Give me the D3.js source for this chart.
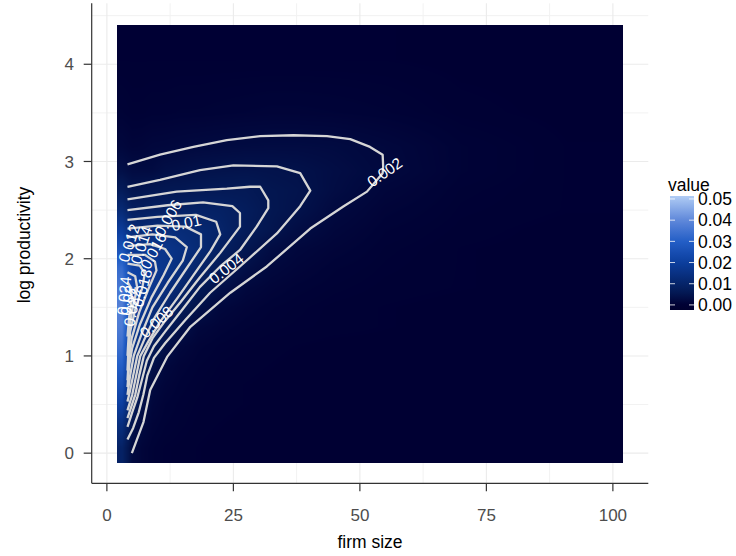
<!DOCTYPE html>
<html><head><meta charset="utf-8">
<script src="https://cdn.jsdelivr.net/npm/d3@7"></script>
<style>
body{margin:0;background:#fff}
svg{display:block}
text{font-family:"Liberation Sans",Arial,Helvetica,sans-serif}
</style>
</head><body>
<svg id="chart" width="736" height="556"></svg>
<script>
// ---------------- data ----------------
const xTicks = [0, 25, 50, 75, 100];
const xMinor = [12.5, 37.5, 62.5, 87.5];
const yTicks = [0, 1, 2, 3, 4];
const yMinor = [0.5, 1.5, 2.5, 3.5, 4.5];
const legendTicks = [0, 0.01, 0.02, 0.03, 0.04, 0.05];
const legendLimits = [-0.0024, 0.0514];

// raster extent and sample points (firm size, log productivity)
const rasterExtentX = [2, 102];
const rasterExtentY = [-0.1, 4.4];
const rasterX = [3, 5, 7, 9, 11.5, 14.5, 18, 22.5, 27.5, 32.5, 37.5, 45, 55, 70, 91];
const rasterY = [0.05, 0.3, 0.5, 0.7, 0.9, 1.1, 1.3, 1.5, 1.7, 1.9, 2.1, 2.3, 2.5, 2.7, 2.9, 3.15, 3.5, 4.05];
// density values, one row per rasterY (bottom to top), one column per rasterX
const rasterValues = [
  [0.009,0.0022,0.0011,0.0006,0.0003,0.0002,0.0001,0,0,0,0,0,0,0,0],
  [0.014,0.0046,0.0021,0.001,0.0006,0.0004,0.0002,0.0001,0,0,0,0,0,0,0],
  [0.020,0.008,0.0035,0.0015,0.0008,0.0005,0.0003,0.0002,0.0001,0,0,0,0,0,0],
  [0.025,0.011,0.0052,0.0021,0.0012,0.0007,0.0004,0.0002,0.0001,0,0,0,0,0,0],
  [0.030,0.0139,0.0076,0.0037,0.0018,0.001,0.0006,0.0003,0.0002,0.0001,0,0,0,0,0],
  [0.034,0.016,0.0115,0.0066,0.0037,0.0017,0.0009,0.0005,0.0003,0.0002,0.0001,0,0,0,0],
  [0.037,0.0195,0.015,0.0114,0.0070,0.0039,0.0017,0.001,0.0006,0.0004,0.0003,0.0002,0.0001,0,0],
  [0.038,0.0225,0.0177,0.014,0.011,0.0068,0.0039,0.0017,0.001,0.0006,0.0004,0.0002,0.0001,0,0],
  [0.036,0.0235,0.020,0.0171,0.0139,0.0107,0.0062,0.0037,0.0018,0.0011,0.0007,0.0004,0.0002,0.0001,0],
  [0.033,0.021,0.020,0.0183,0.0163,0.0134,0.010,0.0058,0.0034,0.0018,0.0012,0.0006,0.0003,0.0001,0],
  [0.026,0.0167,0.0168,0.0168,0.016,0.0145,0.0122,0.0084,0.0052,0.0028,0.0017,0.001,0.0004,0.0001,0],
  [0.019,0.0122,0.0122,0.0127,0.0131,0.0125,0.0115,0.0098,0.0068,0.0048,0.003,0.0015,0.0006,0.0002,0],
  [0.012,0.008,0.0078,0.0085,0.0088,0.0089,0.0092,0.0088,0.0072,0.0052,0.0042,0.0021,0.0009,0.0003,0.0001],
  [0.0068,0.0048,0.005,0.0053,0.0056,0.0057,0.006,0.0062,0.0062,0.005,0.0045,0.0028,0.0013,0.0004,0.0001],
  [0.0036,0.0027,0.0026,0.0026,0.0034,0.0037,0.0041,0.0043,0.0045,0.0043,0.004,0.003,0.0019,0.0006,0.0001],
  [0.0017,0.0012,0.0013,0.0016,0.0017,0.0019,0.0021,0.0023,0.0025,0.0026,0.0026,0.0024,0.0017,0.0006,0.0001],
  [0.0006,0.0004,0.0004,0.0005,0.0005,0.0006,0.0006,0.0007,0.0008,0.0009,0.0009,0.0008,0.0006,0.0002,0],
  [0.0001,0.0001,0.0001,0.0001,0.0001,0.0001,0.0001,0.0001,0.0001,0.0001,0.0001,0.0001,0.0001,0,0]
];

// contour lines (firm size, log productivity)
const c002 = [[4.07,2.97],[10.5,3.07],[17.1,3.15],[23.7,3.22],[30.3,3.26],[36.9,3.27],[43.5,3.26],[48.1,3.23],[52.0,3.15],[54.5,3.07],[54.6,2.95],[54.5,2.88],[51.4,2.69],[46.8,2.54],[40.2,2.31],[31.6,1.92],[24.4,1.65],[16.5,1.30],[11.9,0.99],[8.56,0.65],[7.23,0.32],[5.93,0.14],[4.94,0.0]];
const c004 = [[4.07,2.74],[10.5,2.81],[18.4,2.91],[25.0,2.96],[33.6,2.95],[38.2,2.88],[40.2,2.70],[38.2,2.54],[33.6,2.26],[26.3,1.92],[20.4,1.65],[15.5,1.37],[11.5,1.13],[9.3,0.98],[8.0,0.8],[7.2,0.6],[6.3,0.42],[5.2,0.26],[4.07,0.14]];
const c006 = [[4.07,2.61],[13.8,2.69],[23.7,2.72],[28.3,2.74],[30.3,2.74],[31.9,2.60],[31.9,2.52],[29.6,2.33],[26.3,2.09],[22.4,1.92],[18.4,1.71],[14.5,1.45],[11.5,1.25],[9.3,1.1],[7.9,0.95],[6.9,0.75],[6.0,0.57],[5.0,0.42],[4.07,0.27]];
const c008 = [[4.07,2.50],[12.0,2.55],[19.0,2.58],[24.8,2.54],[26.3,2.47],[26.3,2.33],[22.4,2.06],[18.4,1.81],[14.5,1.55],[11.5,1.36],[9.0,1.18],[7.3,1.0],[6.4,0.8],[5.6,0.6],[4.07,0.36]];
const c010 = [[4.07,2.40],[10.0,2.43],[17.6,2.45],[21.6,2.38],[22.4,2.25],[20.5,2.08],[17.5,1.86],[14.0,1.6],[10.5,1.35],[8.2,1.15],[6.6,1.0],[5.8,0.8],[5.0,0.6],[4.07,0.44]];
const c012 = [[4.07,2.31],[10.0,2.34],[15.5,2.33],[18.6,2.25],[18.6,2.12],[16.0,1.92],[12.5,1.65],[9.5,1.4],[7.4,1.17],[6.0,1.0],[5.2,0.8],[4.6,0.65],[4.07,0.53]];
const c014 = [[4.07,2.22],[9.0,2.25],[13.5,2.22],[15.8,2.12],[15.0,1.98],[12.0,1.75],[9.0,1.5],[6.8,1.22],[5.3,1.0],[4.6,0.8],[4.07,0.6]];
const c016 = [[4.07,2.13],[8.5,2.15],[11.5,2.1],[12.8,2.0],[11.2,1.83],[8.8,1.6],[6.5,1.32],[5.0,1.08],[4.4,0.9],[4.07,0.68]];
const c018 = [[4.07,2.04],[7.5,2.04],[9.5,1.97],[9.8,1.88],[8.3,1.7],[6.4,1.45],[4.9,1.18],[4.3,0.95],[4.07,0.75]];
const c020 = [[4.07,1.95],[6.5,1.93],[7.5,1.85],[7.0,1.7],[5.7,1.5],[4.6,1.25],[4.2,1.0],[4.07,0.85]];
const c022 = [[4.07,1.86],[5.6,1.82],[6.0,1.7],[5.2,1.52],[4.4,1.3],[4.07,1.0]];
const c024 = [[4.07,1.76],[4.8,1.7],[4.9,1.58],[4.4,1.4],[4.07,1.2]];
const contourLines = [c002, c004, c006, c008, c010, c012, c014, c016, c018, c020, c022, c024];

// direct labels on the contours: text, position (data units), angle (deg)
const labelText  = ["0.002","0.004","0.006","0.01","0.008","0.012","0.014","0.016","0.018","0.02","0.022","0.024"];
const labelX     = [54.9, 23.6, 12.1, 15.7, 9.8, 4.4, 6.8, 9.2, 7.0, 4.2, 5.0, 3.4];
const labelY     = [2.89, 1.90, 2.42, 2.37, 1.35, 2.16, 2.14, 2.08, 1.70, 1.57, 1.50, 1.62];
const labelAngle = [-35, -38, -60, -12, -42, -72, -72, -62, -75, -80, -80, -85];

// ---------------- layout ----------------
const svg = d3.select("#chart");
const x = d3.scaleLinear().domain([-3, 107]).range([91.7, 648.3]);
const y = d3.scaleLinear().domain([-0.31, 4.627]).range([483.3, 3.3]);

const color = d3.scaleLinear()
  .domain([legendLimits[0], 0, 0.005, 0.012, 0.02, 0.03, 0.04, legendLimits[1]])
  .range(["#00002e", "#000033", "#031650", "#072a74", "#0c3e9e", "#235ec6", "#6088da", "#b0ccf4"])
  .clamp(true);

// grid
const grid = svg.append("g");
grid.selectAll(".vmin").data(xMinor).join("line")
  .attr("x1", d => x(d)).attr("x2", d => x(d)).attr("y1", y.range()[1]).attr("y2", y.range()[0])
  .attr("stroke", "#f2f2f2").attr("stroke-width", 1);
grid.selectAll(".hmin").data(yMinor).join("line")
  .attr("y1", d => y(d)).attr("y2", d => y(d)).attr("x1", x.range()[0]).attr("x2", x.range()[1])
  .attr("stroke", "#f2f2f2").attr("stroke-width", 1);
grid.selectAll(".vmaj").data(xTicks).join("line")
  .attr("x1", d => x(d)).attr("x2", d => x(d)).attr("y1", y.range()[1]).attr("y2", y.range()[0])
  .attr("stroke", "#ebebeb").attr("stroke-width", 1.1);
grid.selectAll(".hmaj").data(yTicks).join("line")
  .attr("y1", d => y(d)).attr("y2", d => y(d)).attr("x1", x.range()[0]).attr("x2", x.range()[1])
  .attr("stroke", "#ebebeb").attr("stroke-width", 1.1);

// raster (drawn like an interpolated raster layer)
const rx0 = Math.round(x(rasterExtentX[0])), rx1 = Math.round(x(rasterExtentX[1]));
const ry0 = Math.round(y(rasterExtentY[1])), ry1 = Math.round(y(rasterExtentY[0]));
const W = rx1 - rx0, H = ry1 - ry0;
const canvas = document.createElement("canvas");
canvas.width = W; canvas.height = H;
const ctx = canvas.getContext("2d");
const img = ctx.createImageData(W, H);
function bracket(arr, v) {
  if (v <= arr[0]) return [0, 0, 0];
  if (v >= arr[arr.length - 1]) return [arr.length - 1, arr.length - 1, 0];
  const i = d3.bisectRight(arr, v) - 1;
  return [i, i + 1, (v - arr[i]) / (arr[i + 1] - arr[i])];
}
const xb = d3.range(W).map(i => bracket(rasterX, x.invert(rx0 + i + 0.5)));
for (let j = 0; j < H; j++) {
  const [a, b, t] = bracket(rasterY, y.invert(ry0 + j + 0.5));
  for (let i = 0; i < W; i++) {
    const [p, q, s] = xb[i];
    const v0 = rasterValues[a][p] * (1 - s) + rasterValues[a][q] * s;
    const v1 = rasterValues[b][p] * (1 - s) + rasterValues[b][q] * s;
    const c = d3.rgb(color(v0 * (1 - t) + v1 * t));
    const k = (j * W + i) * 4;
    img.data[k] = c.r; img.data[k + 1] = c.g; img.data[k + 2] = c.b; img.data[k + 3] = 255;
  }
}
ctx.putImageData(img, 0, 0);
svg.append("image").attr("x", rx0).attr("y", ry0).attr("width", W).attr("height", H)
  .attr("preserveAspectRatio", "none").attr("href", canvas.toDataURL());

// contours
const line = d3.line().x(d => x(d[0])).y(d => y(d[1]));
svg.append("g").selectAll("path").data(contourLines).join("path")
  .attr("d", line).attr("fill", "none").attr("stroke", "#d6d6d6").attr("stroke-width", 2.3)
  .attr("stroke-linejoin", "round");

// contour labels
svg.append("g").selectAll("text").data(labelText).join("text")
  .attr("transform", (d, i) => `translate(${x(labelX[i])},${y(labelY[i])}) rotate(${labelAngle[i]})`)
  .attr("text-anchor", "middle").attr("dy", "0.35em")
  .attr("font-size", 15.5).attr("fill", "#ffffff").text(d => d);

// axes
const axisColor = "#333333";
svg.append("line").attr("x1", x.range()[0]).attr("x2", x.range()[1]).attr("y1", y.range()[0]).attr("y2", y.range()[0])
  .attr("stroke", axisColor).attr("stroke-width", 1.2);
svg.append("line").attr("x1", x.range()[0]).attr("x2", x.range()[0]).attr("y1", y.range()[0]).attr("y2", y.range()[1])
  .attr("stroke", axisColor).attr("stroke-width", 1.2);
const xt = svg.append("g").selectAll("g").data(xTicks).join("g").attr("transform", d => `translate(${x(d)},0)`);
xt.append("line").attr("y1", y.range()[0]).attr("y2", y.range()[0] + 8).attr("stroke", axisColor).attr("stroke-width", 1.2);
xt.append("text").attr("y", 521).attr("text-anchor", "middle").attr("font-size", 17).attr("fill", "#4d4d4d").text(d => d);
const yt = svg.append("g").selectAll("g").data(yTicks).join("g").attr("transform", d => `translate(0,${y(d)})`);
yt.append("line").attr("x1", x.range()[0]).attr("x2", x.range()[0] - 8).attr("stroke", axisColor).attr("stroke-width", 1.2);
yt.append("text").attr("x", 74).attr("dy", "0.36em").attr("text-anchor", "end").attr("font-size", 17).attr("fill", "#4d4d4d").text(d => d);

svg.append("text").attr("x", 370).attr("y", 548).attr("text-anchor", "middle").attr("font-size", 17.5).attr("fill", "#000").text("firm size");
svg.append("text").attr("transform", "translate(30,245) rotate(-90)").attr("text-anchor", "middle").attr("font-size", 17.5).attr("fill", "#000").text("log productivity");

// legend
const defs = svg.append("defs");
const lg = svg.append("g");
const barX = 670, barW = 24, barTop = 196, barBot = 310;
const ly = d3.scaleLinear().domain(legendLimits).range([barBot, barTop]);
const grad = defs.append("linearGradient").attr("id", "lgrad").attr("x1", 0).attr("y1", 1).attr("x2", 0).attr("y2", 0);
d3.range(0, 1.0001, 0.05).forEach(t => {
  const v = legendLimits[0] + t * (legendLimits[1] - legendLimits[0]);
  grad.append("stop").attr("offset", t).attr("stop-color", color(v));
});
lg.append("rect").attr("x", barX).attr("y", barTop).attr("width", barW).attr("height", barBot - barTop).attr("fill", "url(#lgrad)");
const lt = lg.selectAll("g").data(legendTicks).join("g").attr("transform", d => `translate(0,${ly(d)})`);
lt.append("line").attr("x1", barX).attr("x2", barX + 5).attr("stroke", "#fff").attr("stroke-width", 1).attr("opacity", 0.8);
lt.append("line").attr("x1", barX + barW - 5).attr("x2", barX + barW).attr("stroke", "#fff").attr("stroke-width", 1).attr("opacity", 0.8);
lt.append("text").attr("x", barX + barW + 4).attr("dy", "0.36em").attr("font-size", 17.5).attr("fill", "#000").text(d => d.toFixed(2));
lg.append("text").attr("x", 668).attr("y", 191).attr("font-size", 17.5).attr("fill", "#000").text("value");
</script>
</body></html>
